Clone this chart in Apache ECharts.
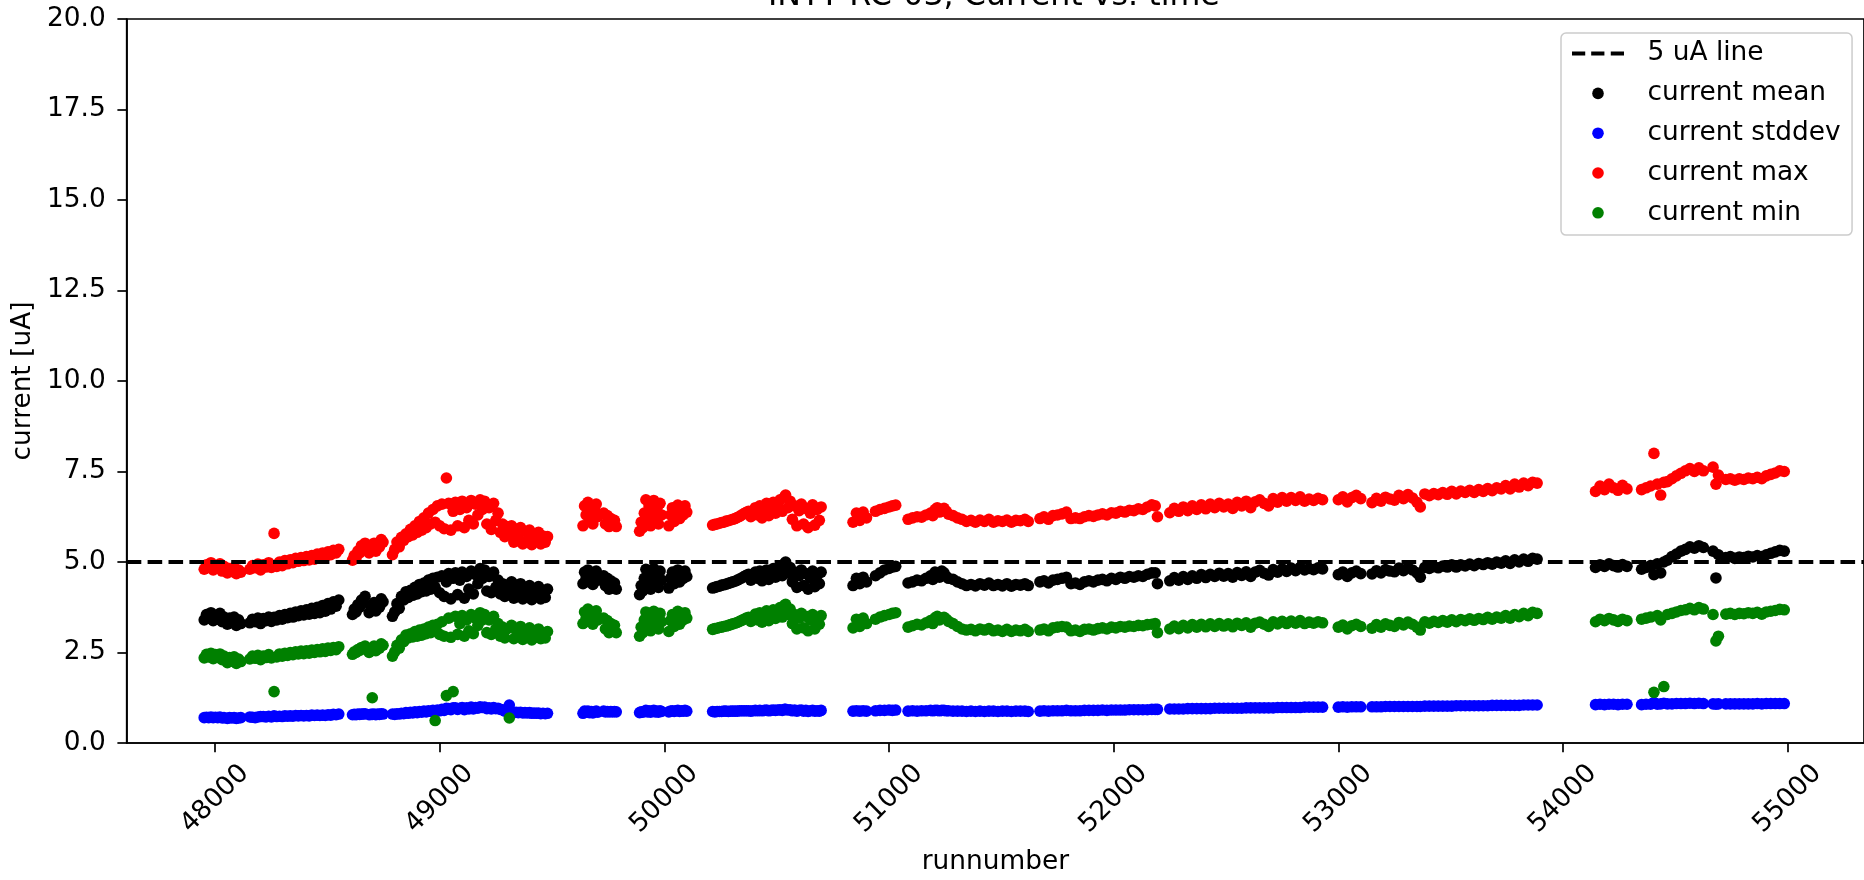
<!DOCTYPE html>
<html>
<head>
<meta charset="utf-8">
<script src="https://cdn.jsdelivr.net/npm/echarts@6/dist/echarts.min.js"></script>
<style>html,body{margin:0;padding:0;background:#fff}#c{width:1864px;height:880px}</style>
</head>
<body>
<div id="c"></div>
<script>
// ---------------- DATA ----------------
const titleText = 'INTT RC-03, Current vs. time';
const xTicks = [48000, 49000, 50000, 51000, 52000, 53000, 54000, 55000];
const xMin = 47607, xMax = 55340;
const lineX = [47607, 55340];
const lineY = [5, 5];

const runs = [
  47952,47962,47972,47982,47992,48002,48012,48022,48032,48040,
  48055,48065,48075,48085,48095,48105,48115,
  48155,48167,48179,48191,48203,48215,48227,48239,48251,48263,48275,48287,48299,48311,48323,48335,48347,48359,48371,48383,48395,48407,48419,48431,48443,48455,48467,48479,48491,48503,48515,48527,48539,48551,
  48612,48620,48628,48636,48644,48652,48660,48668,
  48686,48694,48700,48708,48716,48724,48732,48740,48748,
  48790,48800,48810,48820,48830,48840,48850,48860,48870,48880,48890,48900,48910,48920,48930,48940,48950,48960,48970,48980,
  48990,49000,49010,49020,49030,49040,49050,49060,49070,49080,49090,49100,49110,49120,49130,49140,49150,49160,49170,49180,
  49190,49200,49210,49220,49230,49240,49250,49260,49270,49280,49290,49300,49310,49320,49330,49340,49350,49360,49370,49380,
  49390,49400,49410,49420,49430,49440,49450,49460,49470,49480,
  49638,49645,49652,49660,49667,49675,49682,49690,49697,49704,
  49730,49738,49746,49754,49762,49770,49778,49786,
  49890,49897,49904,49911,49918,49925,49932,49939,49946,49953,49960,49967,49974,49981,49988,
  50020,50028,50036,50044,50052,50060,50068,50076,50084,50092,50100,
  50215,50225,50235,50245,50255,50265,50275,50285,50295,50305,50315,50325,50335,50345,50355,50365,50375,50385,50395,50405,
  50415,50425,50435,50445,50455,50465,50475,50485,50495,50505,50515,50525,50535,50540,50550,50560,50570,50580,50590,50600,
  50610,50620,50630,50640,50650,50660,50670,50680,50690,50698,
  50840,50855,50870,50885,50900,
  50940,50960,50980,51000,51015,51030,
  51085,51105,51125,51145,51165,51185,51195,51205,51215,51225,51235,51245,51255,51265,
  51285,51305,51325,51345,51365,51385,51405,51425,51445,51465,51485,51505,51525,51545,51565,51585,51605,51620,
  51672,51690,51710,51730,51750,51770,51790,
  51810,51830,51850,51870,51890,51910,51930,51950,51970,51990,52010,52030,52050,52070,52090,52110,52130,52150,52170,52185,52195,
  52250,52270,52290,52310,52330,52350,52370,52390,52410,52430,52450,52470,52490,52510,52530,52550,52570,52590,52610,52630,52650,52670,52690,52710,52730,52750,52770,52790,52810,52830,52850,52870,52890,52910,52930,
  53000,53020,53040,53060,53080,53100,
  53150,53170,53190,53210,53230,53250,53270,53290,53310,53330,53350,53365,53385,53405,53425,53445,53465,53485,53505,53525,53545,53565,53585,53605,53625,53645,53665,53685,53705,53725,53745,53765,53785,53805,53825,53845,53865,53885,
  54145,54165,54185,54205,54225,54245,54265,54285,
  54350,54370,54390,54405,54420,54435,54449,54465,54485,54505,54525,54545,54565,54585,54605,54625,
  54668,54681,54692,
  54725,54745,54765,54785,54805,54825,54845,54865,54885,54905,54925,54945,54965,54985
];

const meanVals = [
  3.40,3.55,3.45,3.60,3.38,3.52,3.42,3.58,3.35,3.48,
  3.28,3.45,3.32,3.48,3.25,3.40,3.30,
  3.32,3.42,3.35,3.45,3.30,3.44,3.38,3.48,3.36,3.47,3.40,3.52,3.42,3.55,3.46,3.58,3.48,3.62,3.52,3.65,3.54,3.68,3.56,3.72,3.58,3.75,3.60,3.80,3.64,3.85,3.70,3.90,3.78,3.95,
  3.55,3.70,3.62,3.82,3.75,3.95,3.88,4.05,
  3.60,3.78,3.70,3.88,3.65,3.82,3.75,3.98,3.90,
  3.50,3.62,3.85,3.72,4.05,3.95,4.18,4.02,4.22,4.08,4.30,4.12,4.38,4.18,4.42,4.20,4.50,4.25,4.55,4.30,
  4.58,4.15,4.62,4.05,4.45,4.68,3.98,4.55,4.70,4.10,4.50,4.72,4.00,4.60,4.25,4.75,4.12,4.65,4.40,4.82,
  4.55,4.78,4.20,4.60,4.15,4.72,4.30,4.50,4.12,4.40,4.05,4.35,4.20,4.45,4.00,4.30,4.10,4.40,3.98,4.28,
  4.08,4.35,3.96,4.25,4.05,4.32,3.98,4.22,4.02,4.25,
  4.40,4.72,4.55,4.78,4.45,4.68,4.38,4.60,4.75,4.50,
  4.62,4.35,4.55,4.25,4.48,4.30,4.42,4.25,
  4.10,4.35,4.20,4.55,4.80,4.45,4.70,4.25,4.60,4.82,4.40,4.65,4.30,4.75,4.50,
  4.28,4.55,4.72,4.40,4.65,4.78,4.45,4.70,4.55,4.75,4.60,
  4.28,4.30,4.32,4.33,4.36,4.37,4.39,4.41,4.43,4.45,4.47,4.50,4.53,4.56,4.60,4.63,4.66,4.50,4.62,4.72,
  4.55,4.75,4.48,4.68,4.78,4.52,4.72,4.82,4.58,4.76,4.88,4.62,4.95,5.00,4.70,4.85,4.45,4.72,4.30,4.62,
  4.78,4.35,4.68,4.25,4.55,4.75,4.32,4.62,4.40,4.72,
  4.35,4.55,4.40,4.58,4.45,
  4.62,4.70,4.78,4.82,4.86,4.88,
  4.42,4.45,4.50,4.48,4.55,4.62,4.52,4.72,4.66,4.58,4.75,4.70,4.60,4.55,
  4.52,4.45,4.40,4.35,4.38,4.34,4.40,4.36,4.42,4.35,4.38,4.34,4.40,4.33,4.38,4.36,4.40,4.35,
  4.45,4.48,4.42,4.50,4.52,4.55,4.58,
  4.40,4.42,4.38,4.45,4.48,4.45,4.50,4.52,4.48,4.55,4.52,4.58,4.55,4.60,4.58,4.62,4.60,4.66,4.70,4.70,4.40,
  4.48,4.57,4.50,4.60,4.52,4.62,4.55,4.65,4.57,4.66,4.60,4.69,4.61,4.68,4.58,4.71,4.63,4.73,4.60,4.72,4.77,4.69,4.64,4.79,4.72,4.81,4.74,4.83,4.76,4.85,4.78,4.82,4.79,4.84,4.81,
  4.65,4.72,4.60,4.70,4.75,4.68,
  4.67,4.76,4.70,4.79,4.75,4.73,4.83,4.76,4.85,4.78,4.70,4.58,4.85,4.82,4.87,4.84,4.89,4.86,4.92,4.86,4.92,4.89,4.94,4.90,4.96,4.93,4.98,4.94,5.00,4.97,5.03,4.96,5.06,5.00,5.08,5.02,5.10,5.08,
  4.85,4.92,4.88,4.95,4.90,4.86,4.93,4.88,
  4.80,4.85,4.90,4.65,4.95,4.70,5.00,5.05,5.15,5.22,5.30,5.35,5.42,5.38,5.45,5.40,
  5.30,4.56,5.20,
  5.12,5.15,5.10,5.14,5.12,5.16,5.14,5.18,5.15,5.20,5.24,5.28,5.32,5.30
];

const stddevVals = [
  0.70,0.71,0.70,0.72,0.70,0.71,0.70,0.72,0.69,0.70,
  0.68,0.70,0.69,0.70,0.68,0.69,0.70,
  0.72,0.71,0.70,0.72,0.73,0.73,0.72,0.74,0.72,0.75,0.73,0.74,0.73,0.75,0.74,0.75,0.74,0.76,0.75,0.76,0.75,0.76,0.75,0.77,0.76,0.77,0.76,0.77,0.76,0.78,0.77,0.79,0.78,0.80,
  0.78,0.79,0.78,0.80,0.79,0.80,0.80,0.81,
  0.78,0.79,0.79,0.80,0.78,0.80,0.79,0.81,0.80,
  0.80,0.79,0.81,0.80,0.82,0.81,0.84,0.82,0.85,0.83,0.86,0.84,0.87,0.85,0.88,0.86,0.89,0.87,0.90,0.88,
  0.91,0.89,0.93,0.90,0.96,0.95,0.92,0.97,0.97,0.93,0.96,0.98,0.92,0.97,0.94,0.99,0.94,0.98,0.96,1.00,
  0.98,0.99,0.95,0.97,0.94,0.98,0.95,0.96,0.93,0.92,0.88,0.88,1.05,0.86,0.84,0.85,0.84,0.85,0.83,0.84,
  0.83,0.84,0.82,0.83,0.82,0.83,0.81,0.82,0.81,0.82,
  0.82,0.88,0.85,0.88,0.84,0.87,0.83,0.86,0.88,0.85,
  0.88,0.86,0.87,0.86,0.87,0.86,0.87,0.86,
  0.84,0.86,0.85,0.87,0.90,0.86,0.89,0.85,0.88,0.90,0.86,0.88,0.85,0.89,0.87,
  0.86,0.88,0.89,0.87,0.89,0.90,0.87,0.89,0.88,0.90,0.88,
  0.87,0.86,0.87,0.87,0.87,0.88,0.88,0.87,0.88,0.88,0.88,0.88,0.89,0.89,0.89,0.89,0.89,0.88,0.89,0.90,
  0.89,0.90,0.89,0.90,0.91,0.89,0.90,0.91,0.90,0.91,0.92,0.90,0.93,0.93,0.91,0.92,0.89,0.91,0.88,0.90,
  0.91,0.88,0.90,0.87,0.89,0.90,0.88,0.89,0.88,0.90,
  0.88,0.89,0.88,0.89,0.88,
  0.89,0.90,0.90,0.91,0.90,0.91,
  0.88,0.89,0.88,0.89,0.89,0.90,0.89,0.90,0.90,0.89,0.90,0.90,0.89,0.89,
  0.88,0.88,0.88,0.87,0.88,0.87,0.88,0.87,0.88,0.88,0.87,0.88,0.88,0.87,0.88,0.88,0.88,0.87,
  0.88,0.89,0.88,0.89,0.89,0.89,0.90,
  0.89,0.89,0.89,0.90,0.90,0.90,0.90,0.91,0.90,0.91,0.91,0.91,0.91,0.92,0.92,0.92,0.92,0.92,0.93,0.93,0.93,
  0.94,0.94,0.94,0.94,0.95,0.95,0.95,0.95,0.95,0.95,0.96,0.96,0.96,0.96,0.96,0.96,0.96,0.97,0.97,0.97,0.97,0.97,0.97,0.97,0.98,0.98,0.98,0.98,0.98,0.98,0.99,0.99,0.99,0.99,0.99,
  0.99,1.00,0.99,1.00,1.00,1.00,
  1.00,1.00,1.00,1.01,1.01,1.01,1.01,1.01,1.01,1.01,1.01,1.01,1.02,1.02,1.02,1.02,1.02,1.02,1.02,1.03,1.03,1.03,1.03,1.03,1.03,1.03,1.03,1.04,1.04,1.04,1.04,1.04,1.04,1.04,1.05,1.05,1.05,1.05,
  1.06,1.07,1.06,1.07,1.07,1.06,1.07,1.07,
  1.06,1.07,1.07,1.12,1.07,1.08,1.10,1.08,1.08,1.09,1.09,1.09,1.10,1.09,1.10,1.09,
  1.08,1.07,1.08,
  1.08,1.08,1.08,1.08,1.08,1.08,1.08,1.09,1.08,1.09,1.09,1.09,1.09,1.09
];

const maxVals = [
  4.80,4.92,4.85,4.98,4.78,4.90,4.82,4.95,4.75,4.88,
  4.70,4.82,4.74,4.85,4.68,4.78,4.72,
  4.80,4.90,4.84,4.94,4.78,4.92,4.86,4.98,4.85,5.79,4.88,5.00,4.90,5.04,4.95,5.06,4.98,5.10,5.02,5.12,5.04,5.15,5.06,5.18,5.08,5.22,5.12,5.25,5.15,5.28,5.20,5.32,5.25,5.35,
  5.05,5.18,5.12,5.30,5.25,5.45,5.38,5.52,
  5.25,5.40,5.38,5.52,5.30,5.48,5.42,5.62,5.55,
  5.20,5.35,5.55,5.42,5.68,5.60,5.78,5.70,5.90,5.75,6.00,5.82,6.12,5.88,6.22,5.95,6.35,6.05,6.45,6.10,
  6.55,6.00,6.60,5.92,7.32,6.62,5.88,6.40,6.65,6.00,6.45,6.68,5.95,6.50,6.15,6.70,6.05,6.60,6.30,6.72,
  6.45,6.68,6.05,6.50,5.90,6.62,6.15,6.35,5.82,6.05,5.70,5.98,5.80,6.00,5.55,5.90,5.65,5.95,5.50,5.85,
  5.60,5.88,5.48,5.78,5.58,5.82,5.50,5.72,5.55,5.70,
  6.00,6.55,6.30,6.65,6.15,6.50,6.05,6.40,6.60,6.25,
  6.35,6.05,6.28,5.98,6.20,6.02,6.15,5.98,
  5.85,6.10,5.95,6.35,6.72,6.20,6.55,6.00,6.40,6.70,6.15,6.48,6.05,6.62,6.30,
  6.00,6.30,6.50,6.12,6.42,6.57,6.20,6.48,6.30,6.55,6.38,
  6.02,6.04,6.05,6.07,6.09,6.10,6.13,6.14,6.16,6.18,6.20,6.23,6.26,6.30,6.34,6.37,6.40,6.25,6.38,6.50,
  6.30,6.55,6.22,6.45,6.62,6.28,6.52,6.65,6.35,6.58,6.72,6.40,6.80,6.85,6.50,6.68,6.18,6.55,6.00,6.42,
  6.60,6.05,6.48,5.95,6.35,6.58,6.02,6.45,6.15,6.52,
  6.10,6.35,6.15,6.38,6.22,
  6.40,6.45,6.48,6.52,6.55,6.57,
  6.18,6.22,6.25,6.24,6.30,6.35,6.28,6.45,6.50,6.38,6.42,6.48,6.40,6.32,
  6.28,6.22,6.18,6.12,6.15,6.10,6.16,6.12,6.18,6.10,6.14,6.12,6.16,6.10,6.15,6.14,6.18,6.12,
  6.20,6.25,6.18,6.28,6.30,6.33,6.38,
  6.20,6.22,6.20,6.25,6.28,6.26,6.30,6.33,6.30,6.36,6.35,6.40,6.38,6.43,6.42,6.47,6.45,6.52,6.58,6.55,6.25,
  6.36,6.48,6.40,6.52,6.42,6.55,6.45,6.58,6.47,6.60,6.50,6.62,6.52,6.60,6.48,6.65,6.55,6.68,6.50,6.66,6.72,6.62,6.55,6.75,6.65,6.78,6.68,6.78,6.70,6.80,6.68,6.74,6.70,6.76,6.72,
  6.72,6.80,6.66,6.78,6.84,6.75,
  6.64,6.76,6.68,6.79,6.74,6.71,6.84,6.75,6.86,6.77,6.65,6.52,6.88,6.83,6.89,6.86,6.92,6.87,6.95,6.88,6.96,6.92,6.98,6.92,7.00,6.95,7.03,6.97,7.05,7.02,7.11,7.02,7.15,7.07,7.18,7.11,7.20,7.18,
  6.95,7.10,7.00,7.15,7.05,6.98,7.12,7.02,
  7.00,7.05,7.10,8.00,7.15,6.85,7.20,7.22,7.30,7.38,7.45,7.52,7.58,7.50,7.60,7.52,
  7.62,7.15,7.40,
  7.28,7.30,7.26,7.30,7.28,7.32,7.30,7.34,7.30,7.38,7.42,7.46,7.52,7.50
];

const minVals = [
  2.35,2.45,2.38,2.48,2.33,2.44,2.36,2.46,2.30,2.40,
  2.22,2.36,2.26,2.38,2.20,2.32,2.25,
  2.32,2.40,2.34,2.42,2.30,2.40,2.36,2.44,2.35,1.42,2.38,2.46,2.40,2.48,2.42,2.50,2.44,2.52,2.46,2.54,2.47,2.55,2.48,2.57,2.50,2.58,2.52,2.60,2.53,2.62,2.56,2.64,2.58,2.66,
  2.45,2.52,2.50,2.58,2.56,2.64,2.62,2.68,
  2.50,2.60,1.25,2.68,2.55,2.65,2.62,2.74,2.70,
  2.40,2.52,2.70,2.62,2.85,2.80,2.98,2.90,3.02,2.93,3.08,2.95,3.12,2.98,3.15,3.02,3.20,3.05,3.25,0.62,
  3.28,3.00,3.35,2.95,1.31,3.45,2.92,1.42,3.50,3.00,3.30,3.52,2.95,3.40,3.10,3.55,3.02,3.45,3.25,3.60,
  3.40,3.55,3.05,3.40,3.00,3.50,3.15,3.30,2.95,3.20,2.90,3.15,0.69,3.25,2.88,3.12,2.95,3.22,2.86,3.10,
  2.95,3.18,2.85,3.08,2.92,3.15,2.88,3.05,2.90,3.08,
  3.30,3.62,3.45,3.70,3.35,3.58,3.28,3.50,3.65,3.40,
  3.45,3.15,3.38,3.05,3.30,3.10,3.25,3.05,
  2.95,3.20,3.05,3.40,3.62,3.30,3.52,3.10,3.45,3.64,3.25,3.50,3.15,3.58,3.35,
  3.08,3.38,3.55,3.22,3.48,3.64,3.28,3.55,3.40,3.60,3.45,
  3.14,3.16,3.17,3.19,3.20,3.22,3.23,3.25,3.27,3.29,3.31,3.33,3.36,3.39,3.42,3.45,3.47,3.36,3.46,3.56,
  3.40,3.60,3.34,3.52,3.65,3.38,3.58,3.68,3.44,3.62,3.74,3.48,3.80,3.83,3.55,3.70,3.30,3.55,3.15,3.45,
  3.58,3.18,3.50,3.10,3.40,3.55,3.15,3.45,3.28,3.52,
  3.18,3.42,3.22,3.45,3.30,
  3.42,3.48,3.52,3.55,3.58,3.60,
  3.20,3.24,3.28,3.26,3.32,3.38,3.30,3.46,3.50,3.40,3.44,3.47,3.42,3.36,
  3.30,3.22,3.15,3.12,3.14,3.10,3.15,3.12,3.16,3.10,3.12,3.08,3.14,3.08,3.12,3.10,3.14,3.08,
  3.12,3.15,3.10,3.18,3.20,3.22,3.20,
  3.10,3.12,3.08,3.14,3.15,3.12,3.16,3.18,3.15,3.20,3.18,3.22,3.20,3.23,3.22,3.25,3.24,3.27,3.28,3.30,3.05,
  3.15,3.23,3.16,3.25,3.18,3.27,3.20,3.28,3.21,3.29,3.22,3.30,3.23,3.29,3.21,3.31,3.25,3.32,3.20,3.31,3.34,3.28,3.22,3.35,3.29,3.36,3.30,3.37,3.31,3.38,3.30,3.34,3.31,3.35,3.32,
  3.20,3.26,3.15,3.24,3.28,3.22,
  3.17,3.27,3.20,3.29,3.25,3.22,3.33,3.26,3.34,3.28,3.20,3.12,3.35,3.31,3.36,3.33,3.38,3.34,3.40,3.35,3.41,3.38,3.43,3.39,3.44,3.41,3.47,3.42,3.48,3.45,3.52,3.45,3.55,3.49,3.58,3.52,3.61,3.58,
  3.35,3.42,3.38,3.44,3.40,3.36,3.42,3.38,
  3.42,3.45,3.48,1.40,3.52,3.40,1.56,3.55,3.58,3.62,3.66,3.68,3.72,3.68,3.74,3.70,
  3.55,2.82,2.95,
  3.56,3.58,3.55,3.58,3.57,3.60,3.58,3.61,3.56,3.62,3.64,3.66,3.69,3.68
];

// ---------------- CHART ----------------
[meanVals, stddevVals, maxVals, minVals].forEach((a, k) => {
  if (a.length !== runs.length) console.error('length mismatch', k, a.length, runs.length);
});
const FONT = 'DejaVu Sans';
const pairs = vals => runs.map((r, i) => [r, vals[i]]);
const chart = echarts.init(document.getElementById('c'), null, {renderer: 'canvas'});
const scatter = (name, vals, color) => ({
  name, type: 'scatter', data: pairs(vals), symbol: 'circle', symbolSize: 11.6,
  itemStyle: {color, opacity: 1}, z: 2, silent: true
});
chart.setOption({
  animation: false,
  backgroundColor: '#ffffff',
  title: {
    text: titleText, left: 768, top: -19, padding: 0,
    textStyle: {fontFamily: FONT, fontSize: 31.7, fontWeight: 'normal', color: '#000'}
  },
  grid: {left: 126.7, top: 19, width: 1738.5, height: 728.7, show: true,
         borderColor: '#000', borderWidth: 1.7, backgroundColor: 'transparent', containLabel: false},
  xAxis: {
    type: 'value', min: xMin, max: xMax,
    name: 'runnumber', nameLocation: 'middle', nameGap: 106,
    nameTextStyle: {fontFamily: FONT, fontSize: 26.4, color: '#000'},
    axisLine: {show: true, onZero: false, lineStyle: {color: '#000', width: 1.7}},
    axisTick: {show: true, length: 9.3, customValues: xTicks, lineStyle: {color: '#000', width: 1.7}},
    axisLabel: {show: true, customValues: xTicks, rotate: 45, align: 'center', verticalAlign: 'middle',
                margin: 56, fontFamily: FONT, fontSize: 26.4, color: '#000', formatter: v => String(v)},
    splitLine: {show: false}
  },
  yAxis: {
    type: 'value', min: 0, max: 20, interval: 2.5,
    name: 'current [uA]', nameLocation: 'middle', nameGap: 91, nameRotate: 90,
    nameTextStyle: {fontFamily: FONT, fontSize: 26.4, color: '#000'},
    axisLine: {show: true, lineStyle: {color: '#000', width: 1.7}},
    axisTick: {show: true, length: 9.3, lineStyle: {color: '#000', width: 1.7}},
    axisLabel: {margin: 21, fontFamily: FONT, fontSize: 26.4, color: '#000', formatter: v => v.toFixed(1)},
    splitLine: {show: false}
  },
  legend: {
    orient: 'vertical', left: 1561, top: 33, padding: [5.6, 11.4, 7.3, 11],
    itemGap: 9.8, itemWidth: 52, itemHeight: 11.6, selectedMode: false,
    backgroundColor: 'rgba(255,255,255,0.8)', borderColor: '#cccccc', borderWidth: 1.5, borderRadius: 5,
    textStyle: {fontFamily: FONT, fontSize: 26.4, color: '#000', lineHeight: 30, padding: [0, 0, 0, 18.6]},
    data: [
      {name: '5 uA line', icon: 'path://M0,0H13.3V4H0Z M19.3,0H32.6V4H19.3Z M39,0H52.3V4H39Z', itemStyle: {color: '#000', borderWidth: 0}},
      {name: 'current mean', icon: 'circle'},
      {name: 'current stddev', icon: 'circle'},
      {name: 'current max', icon: 'circle'},
      {name: 'current min', icon: 'circle'}
    ]
  },
  series: [
    {name: '5 uA line', type: 'line', data: lineX.map((x, i) => [x, lineY[i]]), symbol: 'none',
     lineStyle: {color: '#000', width: 4, type: [14.6, 6.3]}, itemStyle: {color: '#000'}, z: 3, silent: true},
    scatter('current mean', meanVals, '#000000'),
    scatter('current stddev', stddevVals, '#0000ff'),
    scatter('current max', maxVals, '#ff0000'),
    scatter('current min', minVals, '#008000')
  ]
});
</script>
</body>
</html>
